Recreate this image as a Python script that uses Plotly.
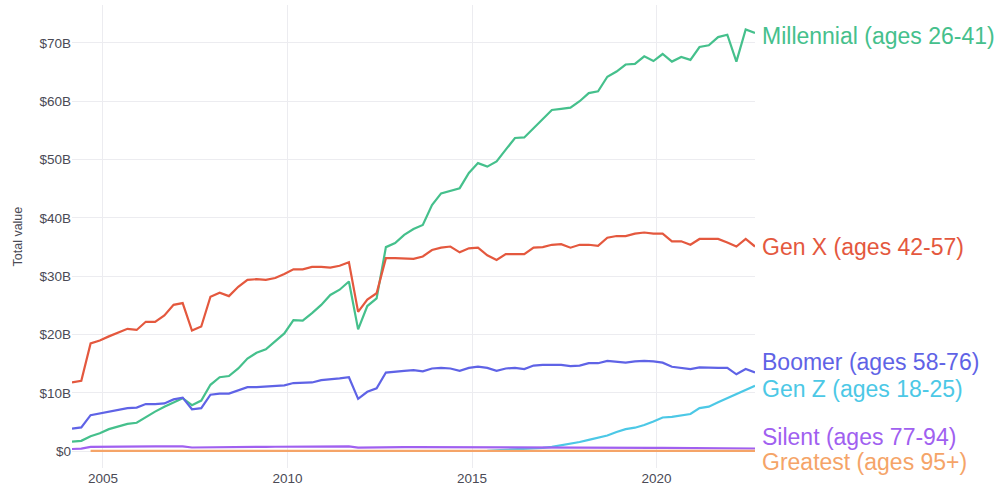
import pandas as pd
import plotly.graph_objects as go

# Quarterly dates
dates = pd.date_range("2004-03-01", periods=75, freq="3MS")

millennial = [1.65, 1.8, 2.6, 3.1, 3.8, 4.2, 4.7, 4.9, 5.9, 6.8, 7.65, 8.4, 9.1, 7.9, 8.7,
              11.4, 12.7, 12.9, 14.2, 15.9, 16.9, 17.5, 18.8, 20.2, 22.5, 22.4, 23.7, 25.1, 26.8, 27.7,
              29.1, 20.9, 24.9, 26.2, 35.0, 35.7, 37.1, 38.1, 38.8, 42.2, 44.2, 44.7, 45.1, 47.7, 49.4,
              48.8, 49.7, 51.7, 53.7, 53.8, 55.4, 57.0, 58.5, 58.7, 58.9, 60.0, 61.4, 61.7, 64.2, 65.1,
              66.3, 66.4, 67.7, 66.9, 68.1, 66.8, 67.6, 67.1, 69.3, 69.6, 71.0, 71.4, 66.8, 72.3, 71.7]

gen_x = [11.8, 12.1, 18.5, 19.0, 19.7, 20.3, 21.0, 20.8, 22.2, 22.2, 23.3, 25.1, 25.4, 20.7, 21.4,
         26.5, 27.2, 26.6, 28.2, 29.4, 29.5, 29.4, 29.7, 30.4, 31.2, 31.2, 31.6, 31.6, 31.5, 31.8,
         32.4, 23.9, 26.0, 27.1, 33.1, 33.1, 33.0, 33.0, 33.4, 34.5, 34.9, 35.1, 34.1, 34.8, 34.9,
         33.6, 32.8, 33.8, 33.8, 33.8, 34.9, 35.0, 35.4, 35.5, 34.9, 35.4, 35.4, 35.2, 36.6, 36.9,
         36.9, 37.3, 37.5, 37.3, 37.3, 36.0, 36.0, 35.4, 36.4, 36.4, 36.4, 35.8, 35.1, 36.4, 35.1]

boomer = [3.9, 4.1, 6.2, 6.5, 6.8, 7.1, 7.4, 7.5, 8.1, 8.1, 8.2, 8.9, 9.2, 7.2, 7.4,
          9.7, 9.9, 9.9, 10.4, 11.0, 11.0, 11.1, 11.1, 11.3, 11.7, 11.7, 11.8, 12.2, 12.3, 12.5,
          12.7, 9.0, 10.2, 10.8, 13.5, 13.7, 13.8, 13.9, 13.7, 14.2, 14.3, 14.2, 13.8, 14.3, 14.5,
          14.3, 13.8, 14.2, 14.3, 14.1, 14.7, 14.8, 14.8, 14.8, 14.6, 14.7, 15.1, 15.1, 15.5, 15.4,
          15.2, 15.4, 15.5, 15.4, 15.2, 14.5, 14.3, 14.1, 14.4, 14.3, 14.3, 14.3, 13.2, 14.1, 13.5]

gen_z = [None] * 45 + [0.1, 0.17, 0.2, 0.3, 0.4, 0.5, 0.6, 0.75, 1.0, 1.25, 1.6, 1.95, 2.3, 2.7, 3.3,
                       3.8, 4.05, 4.5, 5.1, 5.8, 5.9, 6.1, 6.4, 7.4, 7.65, 8.4, 9.1, 9.8, 10.6, 11.25]

silent = [0.4, 0.45, 0.75, 0.78, 0.8, 0.8, 0.8, 0.82, 0.82, 0.84, 0.85, 0.85, 0.85, 0.65, 0.68,
          0.7, 0.72, 0.72, 0.74, 0.75, 0.76, 0.77, 0.78, 0.79, 0.8, 0.8, 0.81, 0.82, 0.82, 0.83,
          0.84, 0.62, 0.66, 0.68, 0.72, 0.72, 0.72, 0.72, 0.71, 0.72, 0.72, 0.71, 0.7, 0.7, 0.7,
          0.69, 0.68, 0.68, 0.68, 0.67, 0.67, 0.66, 0.66, 0.65, 0.64, 0.64, 0.63, 0.62, 0.62, 0.61,
          0.6, 0.6, 0.59, 0.58, 0.58, 0.56, 0.55, 0.55, 0.54, 0.53, 0.52, 0.52, 0.5, 0.5, 0.48]

greatest = [None, None] + [0.06] * 73

series_names = ["Millennial (ages 26-41)", "Gen X (ages 42-57)", "Boomer (ages 58-76)",
                "Gen Z (ages 18-25)", "Silent (ages 77-94)", "Greatest (ages 95+)"]
series_values = [millennial, gen_x, boomer, gen_z, silent, greatest]

y_tick_vals = [0, 10, 20, 30, 40, 50, 60, 70]
y_tick_text = ["$0", "$10B", "$20B", "$30B", "$40B", "$50B", "$60B", "$70B"]

colors = ["#45c08c", "#e4583e", "#5f63e6", "#4cc8e6", "#a060f0", "#f5a468"]
label_yshift = [-3, 0, 11, -3, 12, -11]
text_color = "#4a4a55"

fig = go.Figure()
for name, vals, col in zip(series_names, series_values, colors):
    yv = [v * 1e9 if v is not None else None for v in vals]
    fig.add_trace(go.Scatter(x=dates, y=yv, mode="lines", name=name,
                             line=dict(color=col, width=2.2), showlegend=False))

for name, vals, col, ys in zip(series_names, series_values, colors, label_yshift):
    fig.add_annotation(x=dates[-1], y=vals[-1] * 1e9, text=name, showarrow=False,
                       xanchor="left", yanchor="middle", xshift=5, yshift=ys,
                       font=dict(family="Liberation Sans, Arial", size=23, color=col))

# y-axis title as rotated annotation
fig.add_annotation(xref="paper", yref="paper", x=(17 - 72) / 683, y=0.5,
                   text="Total value", textangle=-90, showarrow=False,
                   xanchor="center", yanchor="middle",
                   font=dict(family="Liberation Sans, Arial", size=12.5, color=text_color))

fig.update_layout(
    width=999, height=492,
    template="plotly_white",
    margin=dict(l=72, r=244, t=5, b=24),
    font=dict(family="Liberation Sans, Arial", size=13, color=text_color),
    xaxis=dict(showgrid=True, gridcolor="#ececf0", zeroline=False,
               tickformat="%Y", dtick="M60", tick0="2005-01-01",
               range=[dates[0], dates[-1]], automargin=False,
               tickfont=dict(size=13.5, color=text_color)),
    yaxis=dict(showgrid=True, gridcolor="#ececf0", zeroline=False,
               tickvals=[v * 1e9 for v in y_tick_vals], ticktext=y_tick_text,
               range=[-2.86e9, 76.5e9], automargin=False,
               tickfont=dict(size=13.5, color=text_color)),
)

fig.write_html("out.html", config={"displayModeBar": False},
               post_script="document.body.style.margin='0';")
